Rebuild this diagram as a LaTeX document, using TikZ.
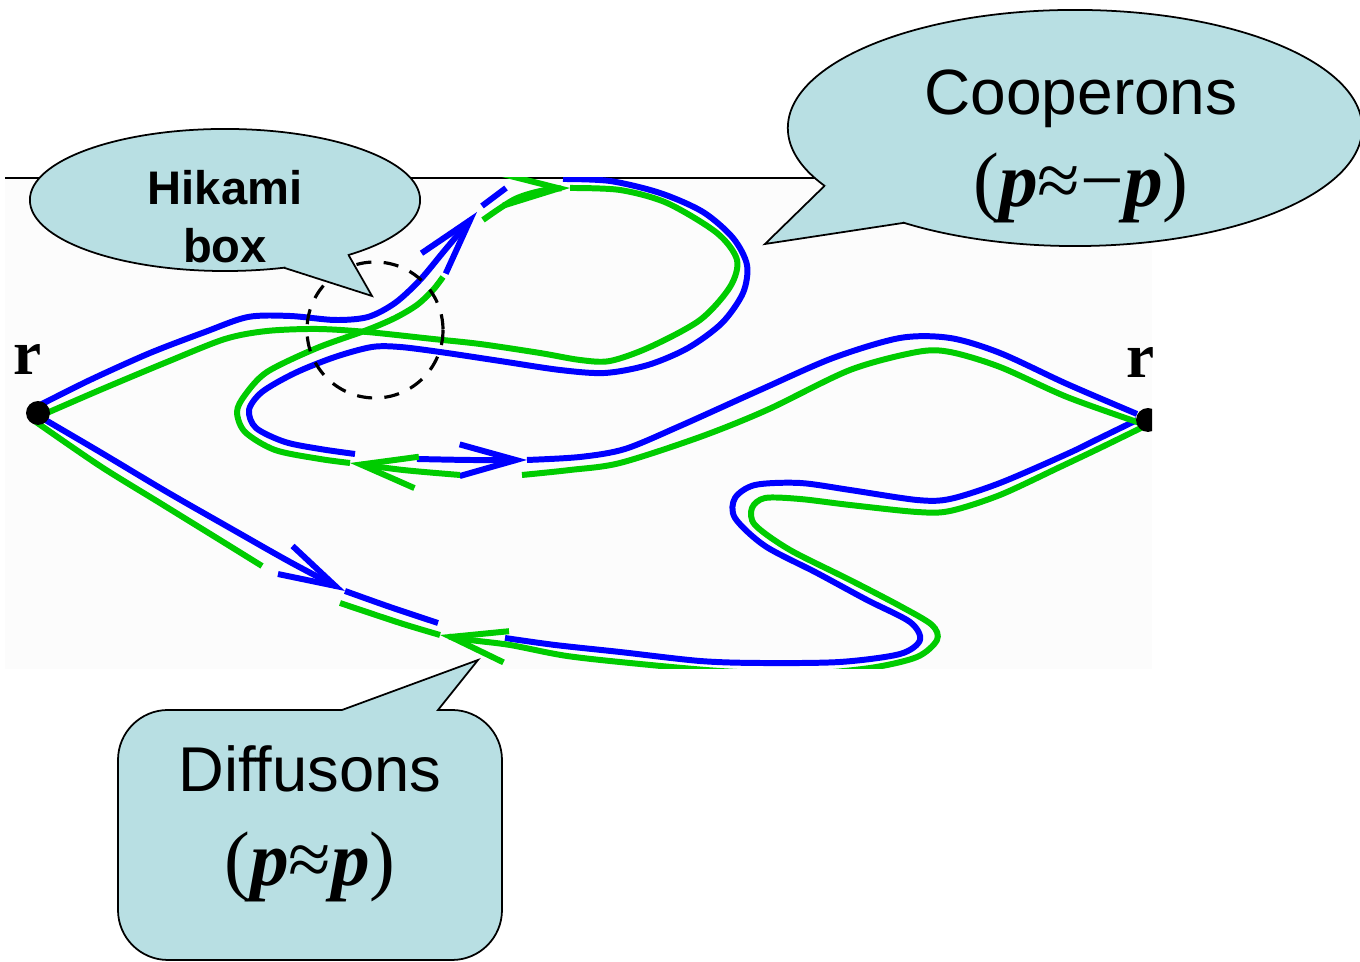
\documentclass[tikz,border=0pt]{standalone}
\usepackage{fontspec}
\setmainfont{Liberation Serif}
\setsansfont{Liberation Sans}
\usetikzlibrary{arrows.meta,shapes.geometric}
\definecolor{bubble}{RGB}{184,223,227}
\definecolor{grn}{RGB}{0,204,0}
\definecolor{blu}{RGB}{0,0,255}

\begin{document}
\begin{tikzpicture}[x=0.01cm,y=-0.01cm,
    bp/.style={draw=blu,line width=1.7pt},
    gp/.style={draw=grn,line width=1.7pt},
    head/.style={-{Straight Barb[length=16pt,width=9pt]}},
    callout/.style={draw,line width=0.5pt,fill=bubble},
    dot/.style={circle,fill=black,inner sep=0pt,minimum size=6.8pt},
    lbl/.style={anchor=base,inner sep=0pt}]
  \useasboundingbox (0,0) rectangle (1360,962);
  \fill[black!1] (5,178) rectangle (1152,669);
  \draw[line width=0.4pt] (5,178) -- (1150,178);

  \begin{scope}
    \clip (5,178) rectangle (1152,669);
    % blue, upper way
    \draw[bp,head] plot[smooth] coordinates {(40,405) (90,380) (150,353) (205,332) (248,317) (290,316) (335,320) (368,317) (395,303) (420,280) (445,250) (477,212)};
    \draw[bp] plot[smooth] coordinates {(482,206) (494,197) (506,188)};
    \draw[bp] plot[smooth] coordinates {(563,179) (610,181) (660,193) (703,212) (733,238) (747,265) (743,293) (722,323) (688,348) (648,365) (605,373) (560,370) (500,361) (440,352) (400,347) (372,347) (335,357) (295,373) (262,392) (249,410) (256,428) (285,442) (320,449) (355,454)};
    \draw[bp,head] plot[smooth] coordinates {(417,459) (470,460) (527,460)};
    \draw[bp] plot[smooth] coordinates {(527,460) (580,457) (625,449) (680,426) (760,390) (833,358) (900,338) (950,338) (1000,353) (1067,384) (1137,414)};
    % blue, lower way
    \draw[bp,head] plot[smooth] coordinates {(42,418) (100,452) (167,492) (230,528) (290,562) (345,591)};
    \draw[bp] plot[smooth] coordinates {(345,591) (390,607) (438,623)};
    \draw[bp] plot[smooth] coordinates {(1137,420) (1100,438) (1067,454) (1000,483) (950,499) (917,500) (850,490) (800,483) (755,485) (735,498) (735,518) (765,546) (817,573) (867,600) (910,622) (920,640) (900,654) (840,662) (760,663) (700,661) (620,652) (555,645) (505,638)};
    % green, upper way
    \draw[gp] plot[smooth] coordinates {(40,416) (100,390) (167,362) (225,339) (267,331) (317,329) (367,332) (433,339) (480,344) (540,353) (580,360) (610,361) (650,347) (700,320) (730,287) (737,260) (717,233) (667,203) (620,190) (570,188)};
    \draw[gp,head] plot[smooth] coordinates {(483,220) (515,199) (545,190) (570,188)};
    \draw[gp] plot[smooth] coordinates {(350,463) (320,459) (275,450) (245,432) (237,412) (245,395) (267,372) (317,348) (367,330) (395,318) (417,305) (433,290) (443,277)};
    \draw[gp,head] plot[smooth] coordinates {(460,475) (403,470) (350,463)};
    \draw[gp] plot[smooth] coordinates {(522,475) (570,470) (620,463) (700,437) (767,410) (850,370) (917,352) (950,352) (1000,367) (1067,397) (1140,423)};
    % green, lower way
    \draw[gp] plot[smooth] coordinates {(36,422) (100,466) (160,503) (220,540) (262,566)};
    \draw[gp] plot[smooth] coordinates {(340,603) (400,623) (440,635)};
    \draw[gp,head] plot[smooth] coordinates {(1143,427) (1100,448) (1060,467) (1000,495) (950,511) (917,512) (850,505) (800,499) (765,498) (752,508) (755,525) (790,550) (850,580) (900,606) (932,625) (937,640) (917,657) (870,668) (800,674) (720,671) (640,664) (567,656) (510,645) (470,640) (440,635)};

    \node[dot] (rl) at (38,413) {};
    \node[dot] (rr) at (1148,420) {};
    \node[lbl,font=\bfseries\fontsize{18}{22}\selectfont] (rlbl) at (28,375) {r};
    \node[lbl,font=\bfseries\fontsize{18}{22}\selectfont] (rrlbl) at (1141,378) {r};
  \end{scope}

  % the Hikami box
  \draw[line width=0.9pt,dash pattern=on 4.3pt off 3.5pt] (375,330) circle[radius=68];

  \node[callout,ellipse,minimum width=3.9cm,minimum height=1.42cm,inner sep=0pt,outer sep=0pt] (hik) at (225,200) {};
  \coordinate (hiktip) at (372,296);
  \fill[bubble] (hik.311.5) -- (hiktip) -- (hik.336.2) -- (318,242) -- cycle;
  \draw[line width=0.5pt] (hik.311.5) -- (hiktip) -- (hik.336.2);
  \node[lbl,font=\sffamily\bfseries\fontsize{13.4}{16}\selectfont] (hiktxt) at (225,205) {Hikami};
  \node[lbl,font=\sffamily\bfseries\fontsize{13.4}{16}\selectfont] (boxtxt) at (225,263) {box};

  \node[callout,ellipse,minimum width=5.74cm,minimum height=2.36cm,inner sep=0pt,outer sep=0pt] (coop) at (1075,128) {};
  \coordinate (cooptip) at (765,244);
  \fill[bubble] (coop.193.5) -- (cooptip) -- (coop.209.4) -- (880,180) -- cycle;
  \draw[line width=0.5pt] (coop.193.5) -- (cooptip) -- (coop.209.4);
  \node[lbl,font=\sffamily\fontsize{18.2}{22}\selectfont] (cooptxt) at (1081,115) {Cooperons};
  \node[lbl,font=\fontsize{22}{26}\selectfont] (coopeq) at (1081,207) {(\textbf{\textit{p}}≈−\textbf{\textit{p}})};

  \draw[callout] (168,710) -- (342,710) -- (478,660) coordinate (difftip) -- (438,710) -- (452,710)
    arc[start angle=-90,end angle=0,radius=50] -- (502,910)
    arc[start angle=0,end angle=90,radius=50] -- (168,960)
    arc[start angle=90,end angle=180,radius=50] -- (118,760)
    arc[start angle=180,end angle=270,radius=50] -- cycle;
  \node[lbl,font=\sffamily\fontsize{18}{22}\selectfont] (difftxt) at (310,792) {Diffusons};
  \node[lbl,font=\fontsize{22}{26}\selectfont] (diffeq) at (310,886) {(\textbf{\textit{p}}≈\textbf{\textit{p}})};
\end{tikzpicture}
\end{document}
